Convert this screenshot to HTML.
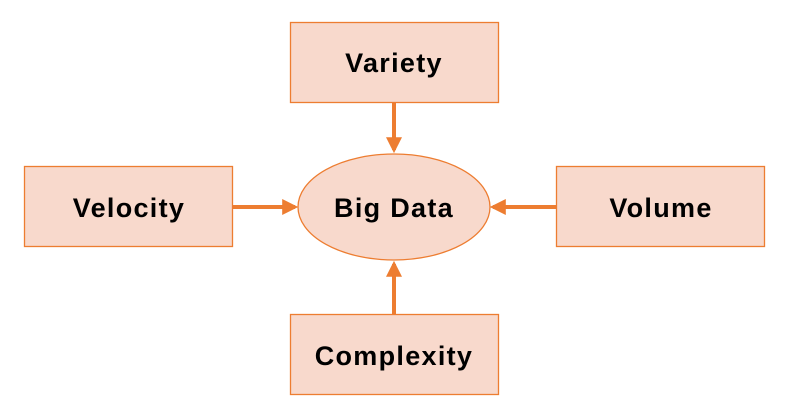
<!DOCTYPE html>
<html><head><style>
html,body{margin:0;padding:0;background:#fff;}
</style></head><body>
<svg width="800" height="416" xmlns="http://www.w3.org/2000/svg" style="display:block">
<defs>
<marker id="ah" markerWidth="4" markerHeight="4" refX="3.2" refY="2" orient="auto" markerUnits="strokeWidth">
<path d="M0,0 L4,2 L0,4 Z" fill="#ed7d31"/>
</marker>
</defs>
<g fill="#f8d9cc" stroke="#ed7d31" stroke-width="1.3">
<rect x="290.5" y="22.5" width="208" height="80"/>
<rect x="24.5" y="166.5" width="208" height="80"/>
<rect x="556.5" y="166.5" width="208" height="80"/>
<rect x="290.5" y="314.5" width="208" height="80"/>
<ellipse cx="394" cy="207" rx="96" ry="53"/>
</g>
<g stroke="#ed7d31" stroke-width="4" marker-end="url(#ah)">
<line x1="394" y1="103" x2="394" y2="150"/>
<line x1="394" y1="314" x2="394" y2="264"/>
<line x1="232" y1="207" x2="295" y2="207"/>
<line x1="556" y1="207" x2="493" y2="207"/>
</g>
<g font-family="Liberation Sans, sans-serif" font-weight="bold" font-size="27" letter-spacing="1.3" fill="#000" text-anchor="middle">
<text x="394" y="72">Variety</text>
<text x="129" y="217">Velocity</text>
<text x="661" y="217">Volume</text>
<text x="394" y="365">Complexity</text>
<text x="394" y="217">Big Data</text>
</g>
</svg>
</body></html>
